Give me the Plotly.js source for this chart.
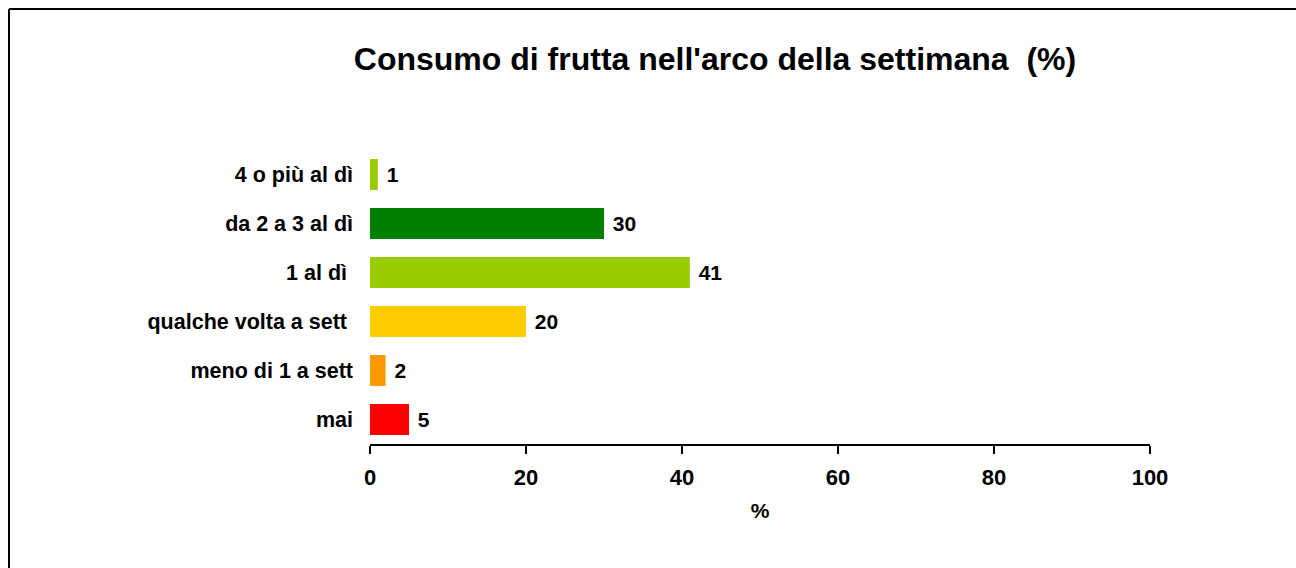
<!DOCTYPE html>
<html>
<head>
<meta charset="utf-8">
<script src="https://cdn.plot.ly/plotly-3.0.1.min.js"></script>
<style>
  html, body { margin: 0; padding: 0; background: #fff; }
  #chart { width: 1296px; height: 568px; }
</style>
</head>
<body>
<div id="chart"></div>
<script>
// Data (bottom to top)
const categories = ["mai", "meno di 1 a sett", "qualche volta a sett\u00a0", "1 al dì\u00a0", "da 2 a 3 al dì", "4 o più al dì"];
const values = [5, 2, 20, 41, 30, 1];
const barColors = ["#FF0000", "#FF9900", "#FFCC00", "#99CC00", "#008000", "#99CC00"];
const xTicks = [0, 20, 40, 60, 80, 100];
const chartTitle = "Consumo di frutta nell'arco della settimana  (%)";
const xTitle = "%";

const FONT = "Liberation Sans, Arial, sans-serif";

// plot area in pixels: x 370..1150, y 150..444
const L = 370, R = 1150, T = 150, B = 444;
const px = v => (v - L) / (R - L);
const py = v => (B - v) / (B - T);

const trace = {
  type: "bar",
  orientation: "h",
  y: categories,
  x: values,
  marker: { color: barColors, line: { width: 0 } },
  texttemplate: "\u00a0%{x}",
  textposition: "outside",
  cliponaxis: false,
  textfont: { family: FONT, size: 21, color: "#000", weight: "bold" },
  hoverinfo: "none"
};

const layout = {
  width: 1296,
  height: 568,
  margin: { l: L, r: 1296 - R, t: T, b: 568 - B, pad: 0 },
  paper_bgcolor: "#ffffff",
  plot_bgcolor: "#ffffff",
  showlegend: false,
  bargap: 0.37,
  title: {
    text: chartTitle,
    font: { family: FONT, size: 32, color: "#000", weight: "bold" },
    xref: "container", x: 715 / 1296, xanchor: "center",
    yref: "container", y: 1 - 59 / 568, yanchor: "middle"
  },
  xaxis: {
    range: [0, 100],
    tickvals: xTicks,
    ticktext: xTicks.map(String),
    showgrid: false,
    zeroline: false,
    showline: true,
    linecolor: "#000",
    linewidth: 2,
    ticks: "outside",
    ticklen: 8,
    tickwidth: 2,
    tickcolor: "#000",
    ticklabelstandoff: 5,
    tickfont: { family: FONT, size: 22, color: "#000", weight: "bold" },
    title: { text: xTitle, font: { family: FONT, size: 21, color: "#000", weight: "bold" }, standoff: 14 },
    fixedrange: true
  },
  yaxis: {
    type: "category",
    categoryorder: "array",
    categoryarray: categories,
    showgrid: false,
    zeroline: false,
    showline: false,
    ticks: "",
    ticklabelstandoff: 16,
    tickfont: { family: FONT, size: 21.5, color: "#000", weight: "bold" },
    fixedrange: true
  },
  shapes: [
    { type: "line", xref: "paper", yref: "paper", x0: px(9), x1: px(9), y0: py(9), y1: py(575), line: { color: "#000", width: 2 } },
    { type: "line", xref: "paper", yref: "paper", x0: px(9), x1: px(1305), y0: py(9), y1: py(9), line: { color: "#000", width: 2 } }
  ]
};

Plotly.newPlot("chart", [trace], layout, { displayModeBar: false, staticPlot: true });
</script>
</body>
</html>
